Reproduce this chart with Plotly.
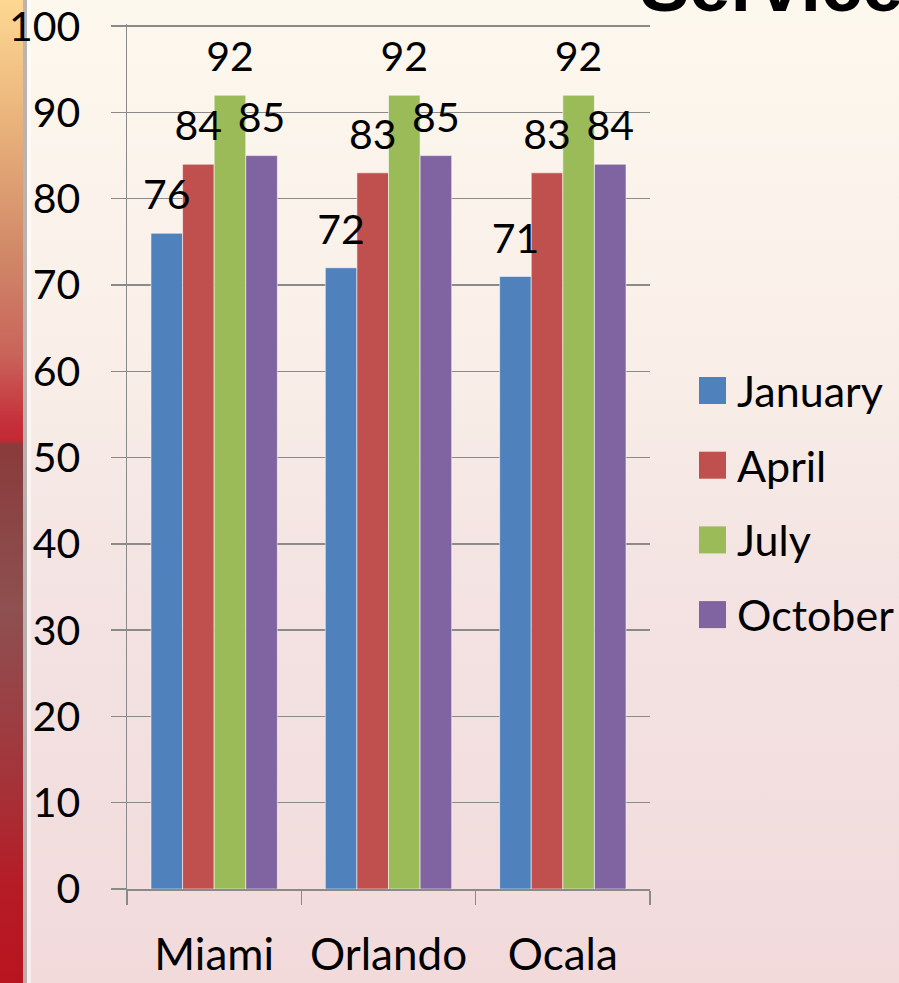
import base64
import plotly.graph_objects as go

# ---------------- data ----------------
cities = ["Miami", "Orlando", "Ocala"]
months = ["January", "April", "July", "October"]
january = [76, 72, 71]
april = [84, 83, 83]
july = [92, 92, 92]
october = [85, 85, 84]
series = [january, april, july, october]
y_tick_values = [0, 10, 20, 30, 40, 50, 60, 70, 80, 90, 100]
title_text = "Service"

# ---------------- style ----------------
colors = ["#4F81BD", "#C0504D", "#9BBB59", "#8064A2"]
FONT = "Lato, 'Open Sans', sans-serif"
W, H = 899, 983
L, R, T, B = 127, 249, 24, 94
PW, PH = W - L - R, H - T - B
GRID = "#8a8a8a"


def px(x):
    return (x - L) / PW


def py(y):
    return 1 - (y - T) / PH


# background as an inline SVG image
svg = f"""<svg xmlns='http://www.w3.org/2000/svg' width='{W}' height='{H}' viewBox='0 0 {W} {H}' preserveAspectRatio='none'>
<defs>
<linearGradient id='bg' x1='0' y1='0' x2='0' y2='1'>
<stop offset='0' stop-color='#fdf8ee'/>
<stop offset='0.35' stop-color='#f9efe8'/>
<stop offset='0.6' stop-color='#f3e3e2'/>
<stop offset='1' stop-color='#f2dadb'/>
</linearGradient>
<linearGradient id='strip' x1='0' y1='0' x2='0' y2='1'>
<stop offset='0' stop-color='#fdd892'/>
<stop offset='0.12' stop-color='#eab47c'/>
<stop offset='0.26' stop-color='#d08868'/>
<stop offset='0.36' stop-color='#c9645a'/>
<stop offset='0.43' stop-color='#c5303a'/>
<stop offset='0.448' stop-color='#c42a32'/>
<stop offset='0.452' stop-color='#8a3b3b'/>
<stop offset='0.62' stop-color='#8e5050'/>
<stop offset='0.78' stop-color='#a2363c'/>
<stop offset='0.9' stop-color='#b51c26'/>
<stop offset='1' stop-color='#b8141f'/>
</linearGradient>
</defs>
<rect x='0' y='0' width='{W}' height='{H}' fill='url(#bg)'/>
<rect x='0' y='0' width='23' height='{H}' fill='url(#strip)'/>
<rect x='23' y='0' width='4' height='{H}' fill='#a9a2a2' opacity='0.8'/>
<rect x='27' y='0' width='4' height='{H}' fill='#ffffff' opacity='0.5'/>
</svg>"""
svg_uri = "data:image/svg+xml;base64," + base64.b64encode(svg.encode()).decode()

fig = go.Figure()

for name, vals, col in zip(months, series, colors):
    fig.add_trace(go.Bar(
        x=cities, y=vals, name=name, marker_color=col,
        marker_line=dict(width=1, color="rgba(255,255,255,0.55)"),
        showlegend=False, hoverinfo="skip",
    ))

for name, vals in zip(months, series):
    fig.add_trace(go.Scatter(
        x=cities, y=vals, name=name + " labels", mode="markers+text",
        text=[str(v) for v in vals], textposition="top center",
        textfont=dict(family=FONT, size=41, color="black"),
        marker=dict(size=20, opacity=0), cliponaxis=False,
        showlegend=False, hoverinfo="skip",
    ))

shapes = []
annotations = []
# manual legend
leg_top = 377
leg_step = 74.7
for i, (name, col) in enumerate(zip(months, colors)):
    y0 = leg_top + i * leg_step
    shapes.append(dict(type="rect", xref="paper", yref="paper",
                       x0=px(699), x1=px(726), y0=py(y0 + 27), y1=py(y0),
                       fillcolor=col, line=dict(width=0)))
    annotations.append(dict(xref="paper", yref="paper", x=px(735), y=py(y0 + 13.5),
                            xanchor="left", yanchor="middle", showarrow=False,
                            text=name, font=dict(family=FONT, size=43, color="black")))

annotations.append(dict(xref="paper", yref="paper", x=px(638), y=py(29),
                        xanchor="left", yanchor="bottom", showarrow=False,
                        text="<b>" + title_text + "</b>",
                        font=dict(family="'Liberation Sans', Arial, sans-serif", size=74, color="black")))

fig.update_layout(
    width=W, height=H, autosize=False,
    margin=dict(l=L, r=R, t=T, b=B, pad=0, autoexpand=False),
    paper_bgcolor="#f7e9e6", plot_bgcolor="rgba(0,0,0,0)",
    barmode="group", bargap=0.275, bargroupgap=0,
    scattermode="group", scattergap=0.275,
    showlegend=False,
    shapes=shapes, annotations=annotations,
    images=[dict(source=svg_uri, xref="paper", yref="paper",
                 x=-L / PW, y=1 + T / PH, sizex=W / PW, sizey=H / PH,
                 xanchor="left", yanchor="top", sizing="stretch", layer="below")],
    font=dict(family=FONT, color="black"),
)

fig.update_xaxes(
    type="category", tickson="boundaries", ticks="outside", ticklen=14,
    tickcolor=GRID, tickwidth=1.5, showline=True, linecolor=GRID, linewidth=1.5,
    showgrid=False, tickfont=dict(family=FONT, size=44, color="black"),
    ticklabelstandoff=27, automargin=False,
)
fig.update_yaxes(
    range=[0, 100.25], tickvals=y_tick_values, ticks="outside", ticklen=15,
    tickcolor=GRID, tickwidth=1.5, showline=True, linecolor=GRID, linewidth=1.5,
    showgrid=True, gridcolor=GRID, gridwidth=1.5, zeroline=False,
    tickfont=dict(family=FONT, size=41, color="black"),
    ticklabelstandoff=22, ticklabeloverflow="allow", automargin=False,
)

fig.write_html(
    "out.html",
    config={"responsive": False, "displayModeBar": False, "staticPlot": True},
    post_script="document.body.style.margin='0';document.body.style.padding='0';"
                "document.body.style.overflow='hidden';"
                "document.documentElement.style.overflow='hidden';",
)
